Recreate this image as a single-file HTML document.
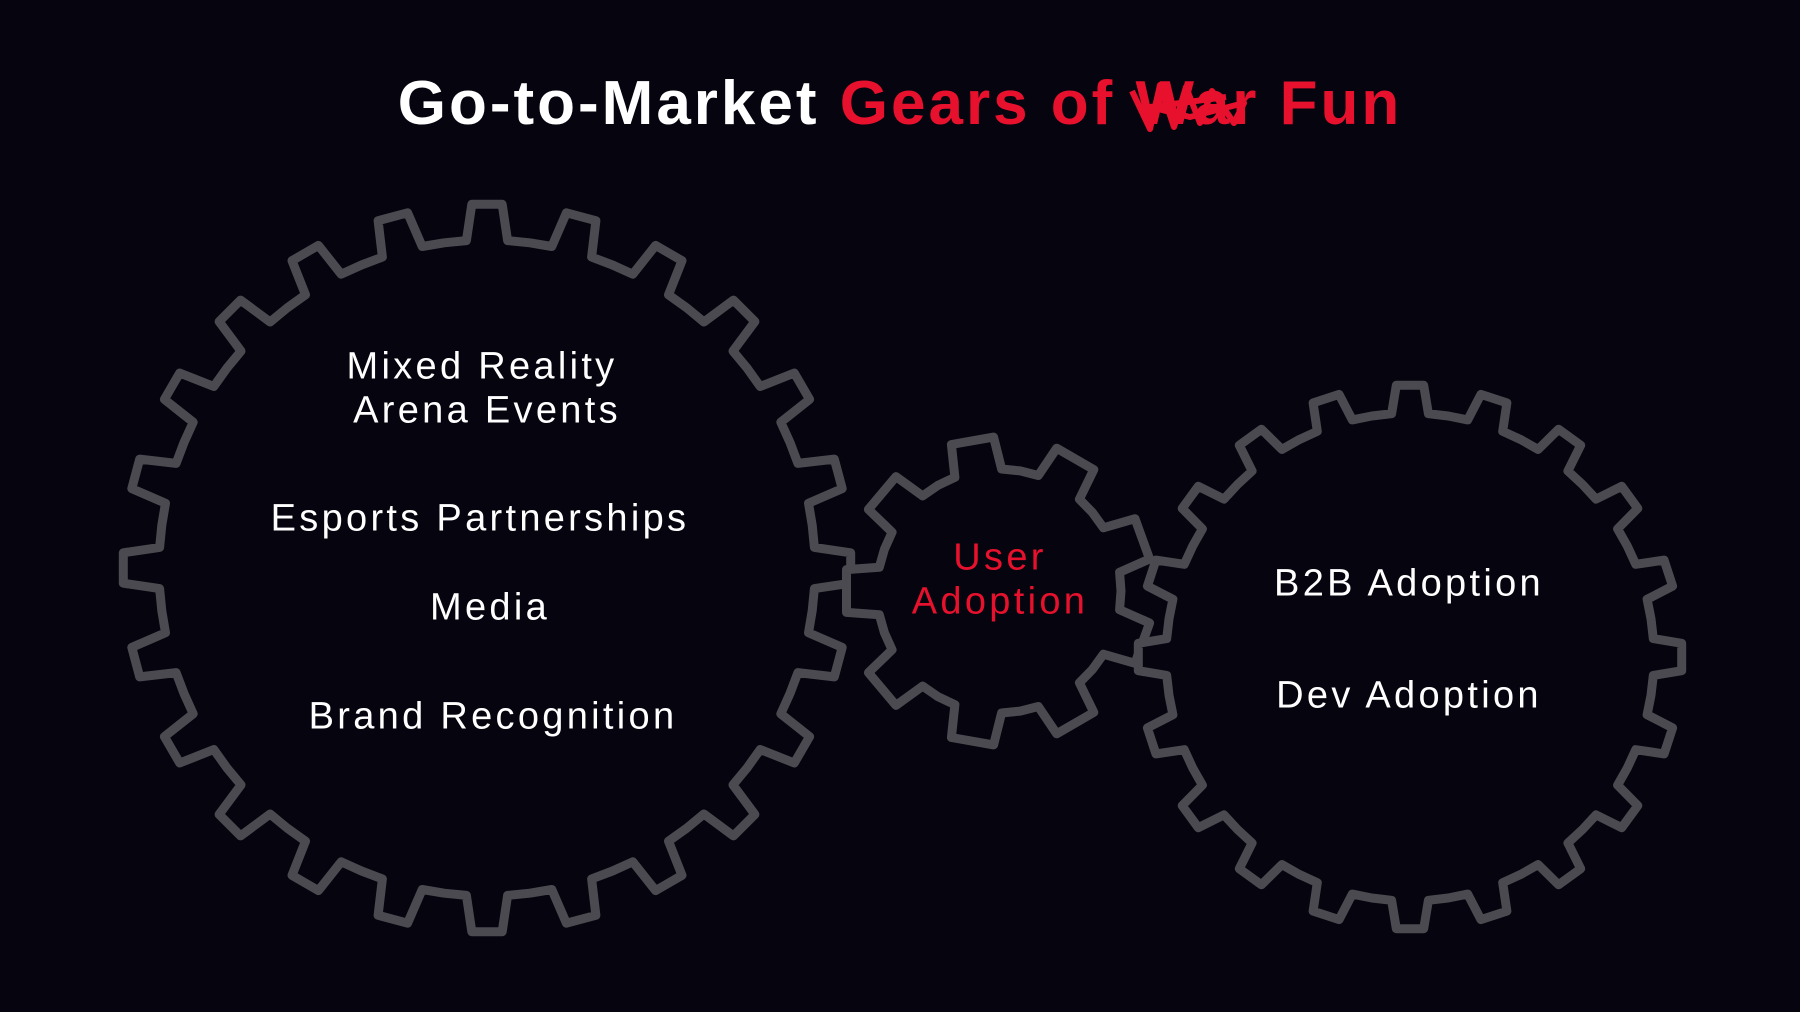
<!DOCTYPE html>
<html><head><meta charset="utf-8"><style>
html,body{margin:0;padding:0;background:#05040f;}
#root{position:relative;width:1800px;height:1012px;overflow:hidden;background:#05040f;font-family:"Liberation Sans","DejaVu Sans",sans-serif;}
.t{position:absolute;transform:translate(-50%,-50%);white-space:nowrap;color:#fff;font-size:38px;letter-spacing:3.3px;}
.red{color:#e8112d;}
#title{position:absolute;left:0;width:1800px;top:68px;text-align:center;font-size:62px;font-weight:bold;color:#fff;letter-spacing:3px;}
</style></head><body>
<div id="root">
<div id="title">Go-to-Market <span class="red">Gears of <span id="war" style="position:relative;">War<svg style="position:absolute;left:-6px;top:8px;overflow:visible" width="120" height="60"><polyline points="2,14 20,52 30,8 44,50 56,10 70,46 82,14 104,46 114,26 60,40 20,30 96,20" fill="none" stroke="#e8112d" stroke-width="6" stroke-linejoin="round"/></svg></span> Fun</span></div>
<svg id="gears" width="1800" height="1012" style="position:absolute;left:0;top:0"></svg>
<div class="t" style="left:482px;top:367px">Mixed Reality</div>
<div class="t" style="left:487px;top:411px">Arena Events</div>
<div class="t" style="left:480px;top:519px">Esports Partnerships</div>
<div class="t" style="left:490px;top:608px">Media</div>
<div class="t" style="left:493px;top:717px">Brand Recognition</div>
<div class="t red" style="left:1000px;top:558px">User</div>
<div class="t red" style="left:1000px;top:602px">Adoption</div>
<div class="t" style="left:1409px;top:584px">B2B Adoption</div>
<div class="t" style="left:1409px;top:696px">Dev Adoption</div>
</div>
<script>
const gearNames=['left-gear','center-gear','right-gear'];
const gearCx=[487,999,1410];
const gearCy=[568,591,657];
const gearOuter=[364,154,272];
const gearRoot=[328,122,244];
const gearTeeth=[24,9,20];
const gearOffset=[0,-10,0];
const svg=document.getElementById('gears');
for(let g=0;g<3;g++){
  const n=gearTeeth[g],p=2*Math.PI/n,off=gearOffset[g]*Math.PI/180;
  const tw=g===1?0.2:0.16, bw=g===1?0.28:0.24;
  let pts=[];
  for(let i=0;i<n;i++){
    const a=-Math.PI/2+off+i*p;
    const seq=[[a-0.5*p,gearRoot[g]],[a-bw*p,gearRoot[g]],[a-tw*p,gearOuter[g]],[a+tw*p,gearOuter[g]],[a+bw*p,gearRoot[g]]];
    seq.forEach(s=>pts.push((gearCx[g]+s[1]*Math.cos(s[0])).toFixed(1)+','+(gearCy[g]+s[1]*Math.sin(s[0])).toFixed(1)));
  }
  const poly=document.createElementNS('http://www.w3.org/2000/svg','polygon');
  poly.setAttribute('points',pts.join(' '));
  poly.setAttribute('fill','#05040f');
  poly.setAttribute('stroke','#4a4a50');
  poly.setAttribute('stroke-width','9');
  poly.setAttribute('stroke-linejoin','round');
  
  
  svg.appendChild(poly);
}
</script>
</body></html>
